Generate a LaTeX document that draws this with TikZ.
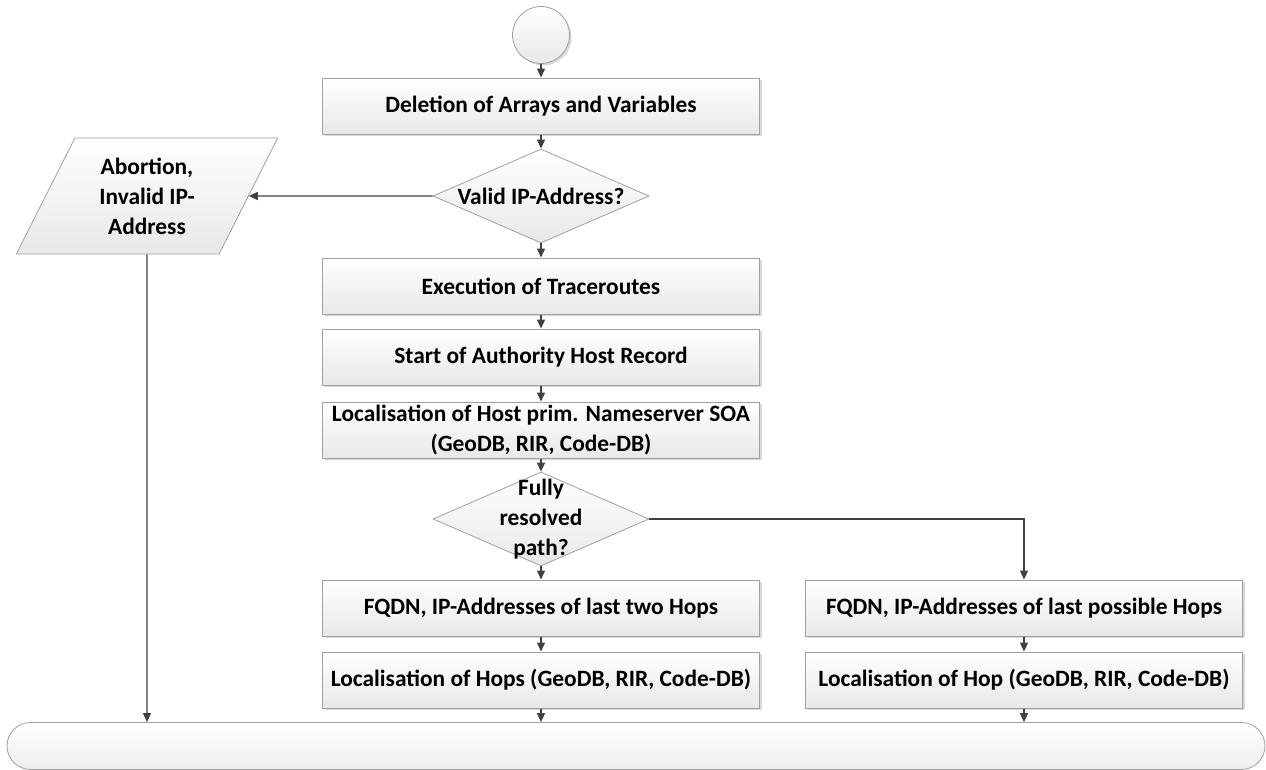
\documentclass[tikz,border=0pt]{standalone}
\usepackage{fontspec}
\setmainfont{Carlito}
\usetikzlibrary{shapes, shapes.geometric, shapes.misc}
\usetikzlibrary{arrows.meta}
\usetikzlibrary{positioning, shadows}

\definecolor{edgegray}{RGB}{160,160,160}
\definecolor{flowgray}{RGB}{64,64,64}

\tikzset{
    chartfont/.style = {font = \fontsize{23.4}{30}\selectfont\bfseries},
    softshadow/.style = {drop shadow = {shadow xshift = 2pt, shadow yshift = -2pt,
                                        fill = black!30, opacity = 0.5}},
    procbox/.style   = {rectangle, draw = edgegray, line width = 1pt,
                        top color = white, bottom color = black!9,
                        minimum width = 437pt, minimum height = 56pt, inner sep = 0pt,
                        softshadow, chartfont},
    decision/.style  = {diamond, draw = edgegray, line width = 0.8pt,
                        top color = white, bottom color = black!9,
                        minimum width = 216pt, minimum height = 94pt, inner sep = 0pt},
    flow/.style      = {draw = flowgray, line width = 1.4pt,
                        -{Triangle[length = 9pt, width = 8pt]}}
}

\begin{document}
\begin{tikzpicture}[x = 1pt, y = -1pt]
    \useasboundingbox (0,0) rectangle (1266,769);

    \def\colmain{541}
    \def\colside{1024}

    % main column
    \node[circle, draw = edgegray, line width = 0.8pt, top color = white, bottom color = black!9,
          minimum size = 57pt, inner sep = 0pt, softshadow] (start) at (\colmain,35) {};
    \node[procbox] (delete) at (\colmain,106) {Deletion of Arrays and Variables};
    \node[decision] (validip) at (\colmain,196) {};
    \node[chartfont, align = center] (validiptext) at (validip) {Valid IP-Address?};
    \node[trapezium, trapezium left angle = 63.2, trapezium right angle = 116.8,
          draw = edgegray, line width = 0.8pt, top color = white, bottom color = black!9,
          minimum width = 262pt, minimum height = 85pt, inner sep = 0pt,
          chartfont, align = center] (abort) at (147,196) {Abortion,\\Invalid IP-\\Address};
    \node[procbox] (trace) at (\colmain,286) {Execution of Traceroutes};
    \node[procbox] (soa) at (\colmain,357) {Start of Authority Host Record};
    \node[procbox, align = center] (locsoa) at (\colmain,430)
        {Localisation of Host prim. Nameserver SOA\\(GeoDB, RIR, Code-DB)};
    \node[decision] (resolved) at (\colmain,519) {};
    \node[chartfont, align = center] (resolvedtext) at (resolved) {Fully\\resolved\\path?};
    \node[procbox] (fqdntwo) at (\colmain,608) {FQDN, IP-Addresses of last two Hops};
    \node[procbox] (lochops) at (\colmain,680) {Localisation of Hops (GeoDB, RIR, Code-DB)};

    % side column
    \node[procbox] (fqdnposs) at (\colside,608) {FQDN, IP-Addresses of last possible Hops};
    \node[procbox] (lochop) at (\colside,680) {Localisation of Hop (GeoDB, RIR, Code-DB)};

    \node[rounded rectangle, draw = edgegray, line width = 0.8pt, top color = white,
          bottom color = black!7, minimum width = 1258pt, minimum height = 47pt,
          inner sep = 0pt] (stop) at (636,746) {};

    \draw[flow] (start) -- (delete);
    \draw[flow] (delete) -- (validip);
    \draw[flow] (validip.west) -- (abort.east);
    \draw[flow] (validip) -- (trace);
    \draw[flow] (trace) -- (soa);
    \draw[flow] (soa) -- (locsoa);
    \draw[flow] (locsoa) -- (resolved);
    \draw[flow] (resolved) -- (fqdntwo);
    \draw[flow] (resolved.east) -| (fqdnposs.north);
    \draw[flow] (fqdntwo) -- (lochops);
    \draw[flow] (fqdnposs) -- (lochop);
    \draw[flow] (lochops) -- (lochops |- stop.north);
    \draw[flow] (lochop) -- (lochop |- stop.north);
    \draw[flow] (abort) -- (abort |- stop.north);
\end{tikzpicture}
\end{document}
